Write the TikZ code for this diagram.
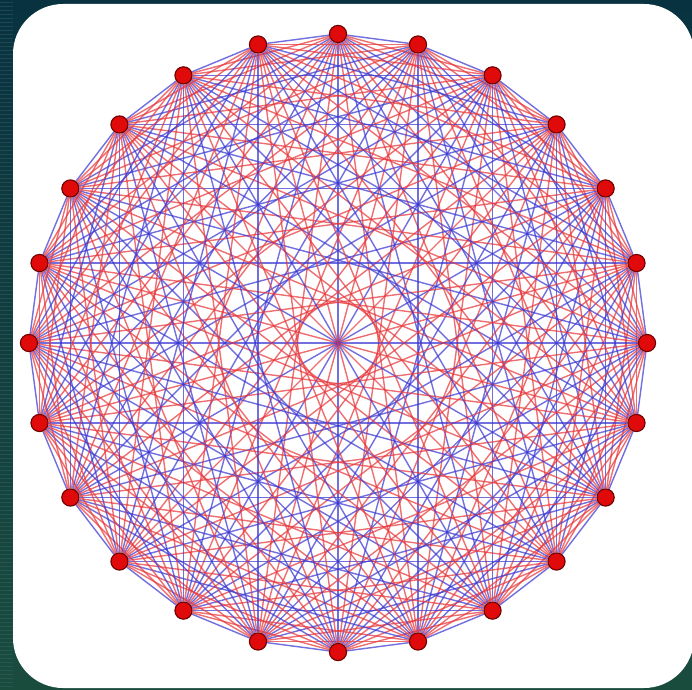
\documentclass[tikz,border=0pt]{standalone}
\usetikzlibrary{calc}
\definecolor{kbgtop}{RGB}{8,50,64}
\definecolor{kbgbot}{RGB}{26,76,62}
\definecolor{kstripe}{RGB}{70,110,115}
\definecolor{kred}{RGB}{232,56,60}
\definecolor{kblue}{RGB}{60,56,210}
\definecolor{kdot}{RGB}{224,10,10}
\definecolor{kdotrim}{RGB}{110,0,0}
%% colour of a chord by its skip (1..12), 13 = other half of the diameters
\colorlet{kd1}{kblue}
\colorlet{kd2}{kred}
\colorlet{kd3}{kred}
\colorlet{kd4}{kblue}
\colorlet{kd5}{kred}
\colorlet{kd6}{kblue}
\colorlet{kd7}{kred}
\colorlet{kd8}{kblue}
\colorlet{kd9}{kred}
\colorlet{kd10}{kblue}
\colorlet{kd11}{kred}
\colorlet{kd12}{kblue}
\colorlet{kd13}{kred}
\pgfdeclarelayer{back}
\pgfdeclarelayer{edges}
\pgfsetlayers{back,edges,main}
\tikzset{
  vertex/.style={circle, draw=kdotrim, fill=kdot, line width=0.8pt, minimum size=0.43cm, inner sep=0pt},
  chord/.style={line width=1pt, draw opacity=0.72},
  panel/.style={fill=white, rounded corners=1.25cm},
}

\begin{document}
\begin{tikzpicture}[x=0.025cm, y=-0.025cm]
  \useasboundingbox (0,0) rectangle (692,690);

  %% backdrop and white card
  \begin{pgfonlayer}{back}
    \shade[top color=kbgtop, bottom color=kbgbot] (0,0) rectangle (692,690);
    \foreach \y in {2,6,...,690}
      \draw[kstripe, line width=0.6pt, opacity=0.35] (0,\y) -- (13,\y);
    \fill[panel] (13,4) rectangle (694,688);
  \end{pgfonlayer}

  %% the 24 vertices
  \foreach \i in {0,...,23}
    \node[vertex] (v\i) at ({338+309*sin(15*\i)},{343-309*cos(15*\i)}) {};

  %% all chords
  \begin{pgfonlayer}{edges}
    \foreach \i in {0,...,22} {
      \pgfmathtruncatemacro{\ni}{\i+1}
      \foreach \j in {\ni,...,23} {
        \pgfmathtruncatemacro{\d}{min(\j-\i,24-\j+\i)}
        \pgfmathtruncatemacro{\d}{(\d==12 && isodd(\i)) ? 13 : \d}
        \draw[chord, draw=kd\d] (v\i) -- (v\j);
      }
    }
  \end{pgfonlayer}
\end{tikzpicture}
\end{document}
